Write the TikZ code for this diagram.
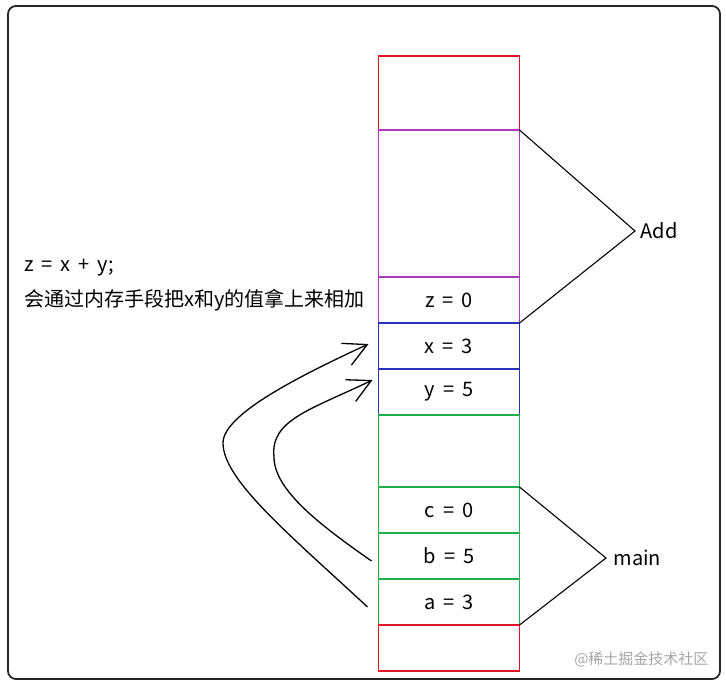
\documentclass[tikz,border=0pt]{standalone}
\usepackage{fontspec}
\setmainfont{Noto Sans CJK SC}
\usetikzlibrary{positioning,arrows.meta}
\definecolor{stackred}{RGB}{225,20,35}
\definecolor{stackpurple}{RGB}{170,60,185}
\definecolor{stackblue}{RGB}{40,50,185}
\definecolor{stackgreen}{RGB}{30,175,75}
\newcommand\stackfont{\fontsize{20}{24}\selectfont\spaceskip=8pt plus 0pt minus 0pt\relax}

\begin{document}
\begin{tikzpicture}[x=1pt,y=-1pt,font=\stackfont]
  \useasboundingbox (0,0) rectangle (726,687);
  \tikzset{Cell/.style={draw=#1,line width=1.2pt,minimum width=141pt,
                        minimum height=46pt,inner sep=0pt,outer sep=0pt}}
  \tikzset{CallArrow/.style={-{Straight Barb[length=23pt,width=24pt]},line width=1.3pt}}
  \tikzset{Brace/.style={line width=1.1pt}}

  % frame
  \draw[line width=1.8pt,rounded corners=8pt,black!85] (8,6) rectangle (720,679);

  % stack
  \node[Cell=stackred,minimum height=74pt,anchor=north west] (top) at (378.5,56) {};
  \node[Cell=stackpurple,minimum height=147pt,below=0pt of top] (addfree) {};
  \node[Cell=stackpurple,below=0pt of addfree] (z) {z = 0};
  \node[Cell=stackblue,below=0pt of z] (x) {x = 3};
  \node[Cell=stackblue,below=0pt of x] (y) {y = 5};
  \node[Cell=stackgreen,minimum height=72pt,below=0pt of y] (mainfree) {};
  \node[Cell=stackgreen,below=0pt of mainfree] (c) {c = 0};
  \node[Cell=stackgreen,below=0pt of c] (b) {b = 5};
  \node[Cell=stackgreen,below=0pt of b] (a) {a = 3};
  \node[Cell=stackred,below=0pt of a] (bottom) {};

  % Add
  \coordinate (addtip) at (635,231);
  \draw[Brace] (top.south east) -- (addtip) -- (z.south east);
  \node[right=2pt of addtip] (addlabel) {Add};

  % main
  \coordinate (maintip) at (606,558);
  \draw[Brace] (c.north east) -- (maintip) -- (a.south east);
  \node[right=4pt of maintip] (mainlabel) {main};

  % text
  \node[anchor=west,inner sep=0pt] (code) at (24,268) {z = x + y;};
  \node[anchor=west,inner sep=0pt] (note) at (24,300) {会通过内存手段把x和y的值拿上来相加};

  % a -> x, b -> y
  \draw[CallArrow] ([shift={(-11,5)}]a.west) .. controls (290,535) and (223,480) .. (223,443)
    .. controls (223,415) and (295,378) .. ([shift={(-10,-2)}]x.west);
  \draw[CallArrow] ([shift={(-7,5)}]b.west) .. controls (320,525) and (274,490) .. (274,457)
    .. controls (270,420) and (310,410) .. ([shift={(-6,-12)}]y.west);

  % watermark
  \node[anchor=east,text=black!35,font=\fontsize{15}{18}\selectfont] (mark) at (712,659) {@稀土掘金技术社区};
\end{tikzpicture}
\end{document}
